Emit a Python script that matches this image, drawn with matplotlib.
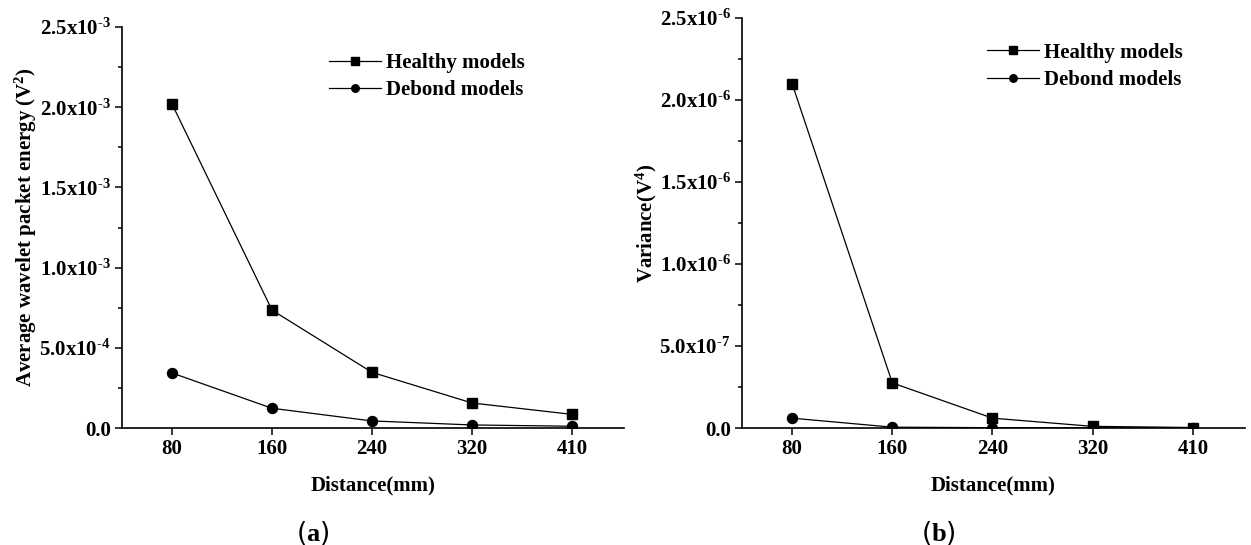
import matplotlib
matplotlib.use("Agg")
import matplotlib.pyplot as plt
from matplotlib.ticker import FixedLocator, MultipleLocator

plt.rcParams['font.family'] = ['Liberation Serif', 'DejaVu Serif']
plt.rcParams['mathtext.fontset'] = 'custom'
plt.rcParams['mathtext.rm'] = 'Liberation Serif:bold'
plt.rcParams['mathtext.bf'] = 'Liberation Serif:bold'
plt.rcParams['mathtext.it'] = 'Liberation Serif:bold'

# ---- data ----
distances = ["80", "160", "240", "320", "410"]
energy_healthy = [2.02e-3, 7.35e-4, 3.47e-4, 1.56e-4, 8.5e-5]
energy_debond = [3.43e-4, 1.23e-4, 4.4e-5, 1.9e-5, 1.1e-5]
var_healthy = [2.10e-6, 2.75e-7, 6.0e-8, 1.0e-8, 3.0e-9]
var_debond = [6.0e-8, 5.0e-9, 2.0e-9, 1.0e-9, 5.0e-10]

yticks_a = [0.0, 5.0e-4, 1.0e-3, 1.5e-3, 2.0e-3, 2.5e-3]
yticklabels_a = ["0.0", r"$\mathbf{5.0x10^{‐4}}$", r"$\mathbf{1.0x10^{‐3}}$",
                 r"$\mathbf{1.5x10^{‐3}}$", r"$\mathbf{2.0x10^{‐3}}$", r"$\mathbf{2.5x10^{‐3}}$"]
yticks_b = [0.0, 5.0e-7, 1.0e-6, 1.5e-6, 2.0e-6, 2.5e-6]
yticklabels_b = ["0.0", r"$\mathbf{5.0x10^{‐7}}$", r"$\mathbf{1.0x10^{‐6}}$",
                 r"$\mathbf{1.5x10^{‐6}}$", r"$\mathbf{2.0x10^{‐6}}$", r"$\mathbf{2.5x10^{‐6}}$"]

labels = ["Healthy models", "Debond models"]

fig = plt.figure(figsize=(12.51, 5.45), dpi=100)
axA = fig.add_axes([122/1251, 1-428/545, (624-122)/1251, (428-27)/545])
axB = fig.add_axes([742/1251, 1-428/545, (1245-742)/1251, (428-18)/545])

FS = 15

def style(ax, yticks, yticklabels, ylabel, step, ymax, ylpad):
    x = list(range(len(distances)))
    ax.set_xlim(-0.5, 4.52)
    ax.set_ylim(0, ymax)
    ax.xaxis.set_major_locator(FixedLocator(x))
    ax.set_xticklabels(distances, fontsize=FS, fontweight='bold')
    ax.set_yticks(yticks)
    ax.set_yticklabels(yticklabels, fontsize=FS, fontweight='bold')
    ax.yaxis.set_minor_locator(MultipleLocator(step/2))
    ax.tick_params(axis='both', which='major', direction='out', length=5, width=1.1, pad=3)
    ax.tick_params(axis='y', which='minor', direction='out', length=3, width=1.1)
    for s in ['top', 'right']:
        ax.spines[s].set_visible(False)
    for s in ['left', 'bottom']:
        ax.spines[s].set_linewidth(1.2)
    ax.set_xlabel("Distance(mm)", fontsize=FS, fontweight='bold', labelpad=12)
    ax.set_ylabel(ylabel, fontsize=FS, fontweight='bold', labelpad=ylpad)

x = list(range(len(distances)))
for ax, h, d in [(axA, energy_healthy, energy_debond), (axB, var_healthy, var_debond)]:
    ax.plot(x, h, color='black', lw=0.9, marker='s', ms=6.8, label=labels[0])
    ax.plot(x, d, color='black', lw=0.9, marker='o', ms=7.2, label=labels[1])

style(axA, yticks_a, yticklabels_a, r"Average wavelet packet energy (V$^{2}$)", 5e-4, 2.5e-3, 0)
style(axB, yticks_b, yticklabels_b, r"Variance(V$^{4}$)", 5e-7, 2.5e-6, 0)

legA = axA.legend(loc='upper left', bbox_to_anchor=(0.412, 0.935), frameon=False,
                  prop={'weight': 'bold', 'size': FS}, handlelength=2.5, markerscale=0.75,
                  handletextpad=0.25, labelspacing=0.35, borderpad=0, borderaxespad=0)
legB = axB.legend(loc='upper left', bbox_to_anchor=(0.487, 0.94), frameon=False,
                  prop={'weight': 'bold', 'size': FS}, handlelength=2.5, markerscale=0.75,
                  handletextpad=0.25, labelspacing=0.35, borderpad=0, borderaxespad=0)

fig.text(313/1251, 1-533/545, r"($\mathbf{a}$)", fontsize=19, ha='center', va='center',
         family=['DejaVu Sans'])
fig.text(938/1251, 1-533/545, r"($\mathbf{b}$)", fontsize=19, ha='center', va='center',
         family=['DejaVu Sans'])

fig.savefig("out.png", dpi=100)
